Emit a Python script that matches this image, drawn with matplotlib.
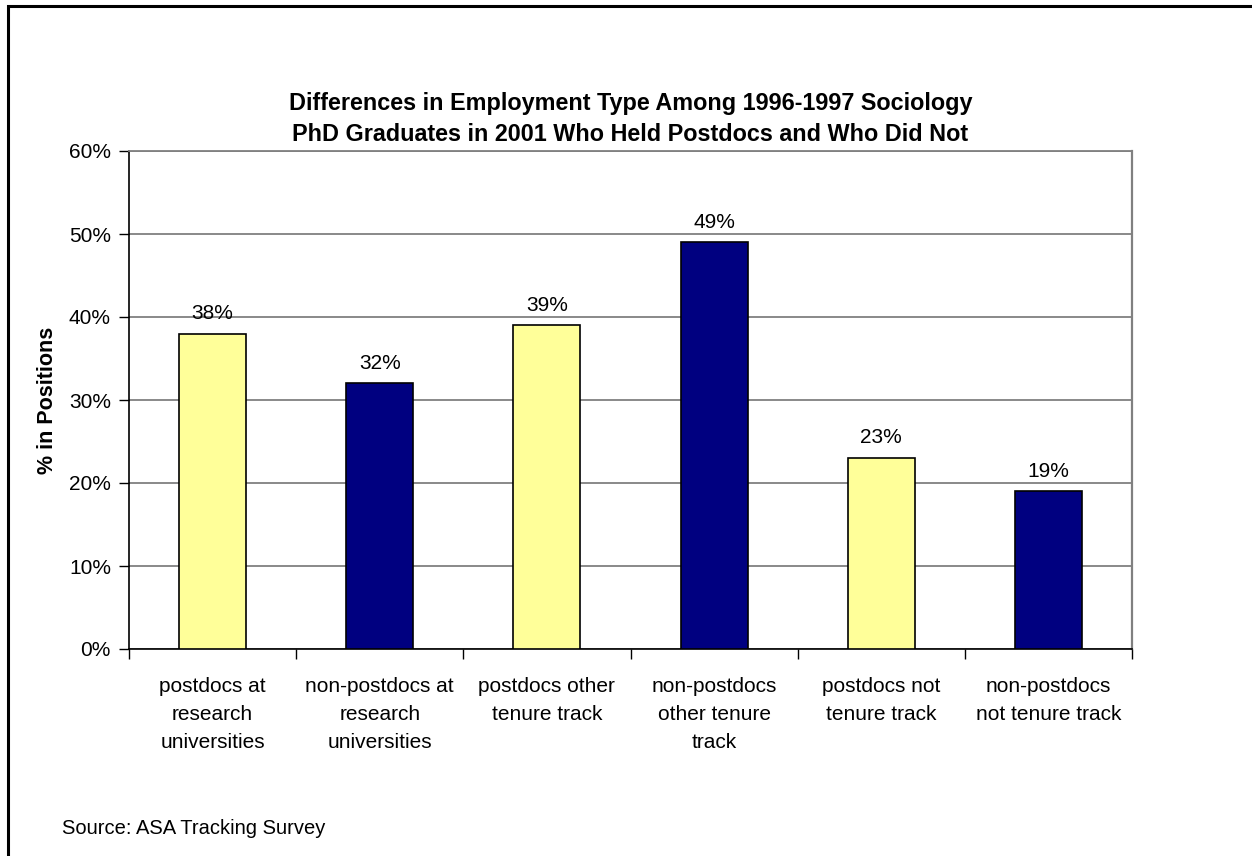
import matplotlib
matplotlib.use("Agg")
import matplotlib.pyplot as plt
from matplotlib.patches import Rectangle

categories = ["postdocs at\nresearch\nuniversities",
              "non-postdocs at\nresearch\nuniversities",
              "postdocs other\ntenure track",
              "non-postdocs\nother tenure\ntrack",
              "postdocs not\ntenure track",
              "non-postdocs\nnot tenure track"]
values = [38, 32, 39, 49, 23, 19]
bar_colors = ["#FFFF99", "#000080", "#FFFF99", "#000080", "#FFFF99", "#000080"]
yticks = [0, 10, 20, 30, 40, 50, 60]
ytick_labels = ["0%", "10%", "20%", "30%", "40%", "50%", "60%"]

plt.rcParams['font.family'] = ['Liberation Sans', 'DejaVu Sans']

W, H = 1252, 856
fig = plt.figure(figsize=(W / 100, H / 100), dpi=100)

# outer frame (extends past right and bottom edges)
fig.patches.append(Rectangle((8 / W, -0.1), 1.2, (H - 6) / H + 0.1, transform=fig.transFigure,
                             fill=False, edgecolor="black", linewidth=2.2))

left, right, top, bottom = 129, 1132, 151, 649
ax = fig.add_axes([left / W, 1 - bottom / H, (right - left) / W, (bottom - top) / H])

x = list(range(len(categories)))
ax.bar(x, values, width=0.4, color=bar_colors, edgecolor="black", linewidth=1.2, zorder=3)
for xi, v in zip(x, values):
    ax.text(xi, v + 1.3, f"{v}%", ha="center", va="bottom", fontsize=15, zorder=4)

ax.set_xlim(-0.5, len(categories) - 0.5)
ax.set_ylim(0, 60)
ax.set_yticks(yticks)
ax.set_yticklabels(ytick_labels, fontsize=15)
ax.yaxis.grid(True, color="#808080", linewidth=1.3, zorder=0)
ax.set_axisbelow(True)

ax.set_xticks([i + 0.5 for i in range(-1, len(categories))])
ax.set_xticklabels([])
ax.tick_params(axis="x", direction="out", length=7, width=1, color="black")
ax.tick_params(axis="y", direction="out", length=7, width=1, color="black", pad=6)
for xi, lab in zip(x, categories):
    ax.text(xi, -3.4, lab, ha="center", va="top", fontsize=15, linespacing=1.6,
            transform=ax.transData)

for s in ["left", "bottom"]:
    ax.spines[s].set_color("black")
    ax.spines[s].set_linewidth(1.2)
ax.spines["right"].set_color("#808080")
ax.spines["right"].set_linewidth(1.6)
ax.spines["top"].set_color("#808080")
ax.spines["top"].set_linewidth(1.3)

ax.set_ylabel("% in Positions", fontsize=15.5, fontweight="bold", labelpad=8)

fig.text(0.5035, 1 - 119 / H,
         "Differences in Employment Type Among 1996-1997 Sociology\nPhD Graduates in 2001 Who Held Postdocs and Who Did Not",
         ha="center", va="center", fontsize=16.8, fontweight="bold", linespacing=1.4)

fig.text(62 / W, 1 - 828 / H, "Source: ASA Tracking Survey", ha="left", va="center", fontsize=14.5)

fig.savefig("out.png", dpi=100)
